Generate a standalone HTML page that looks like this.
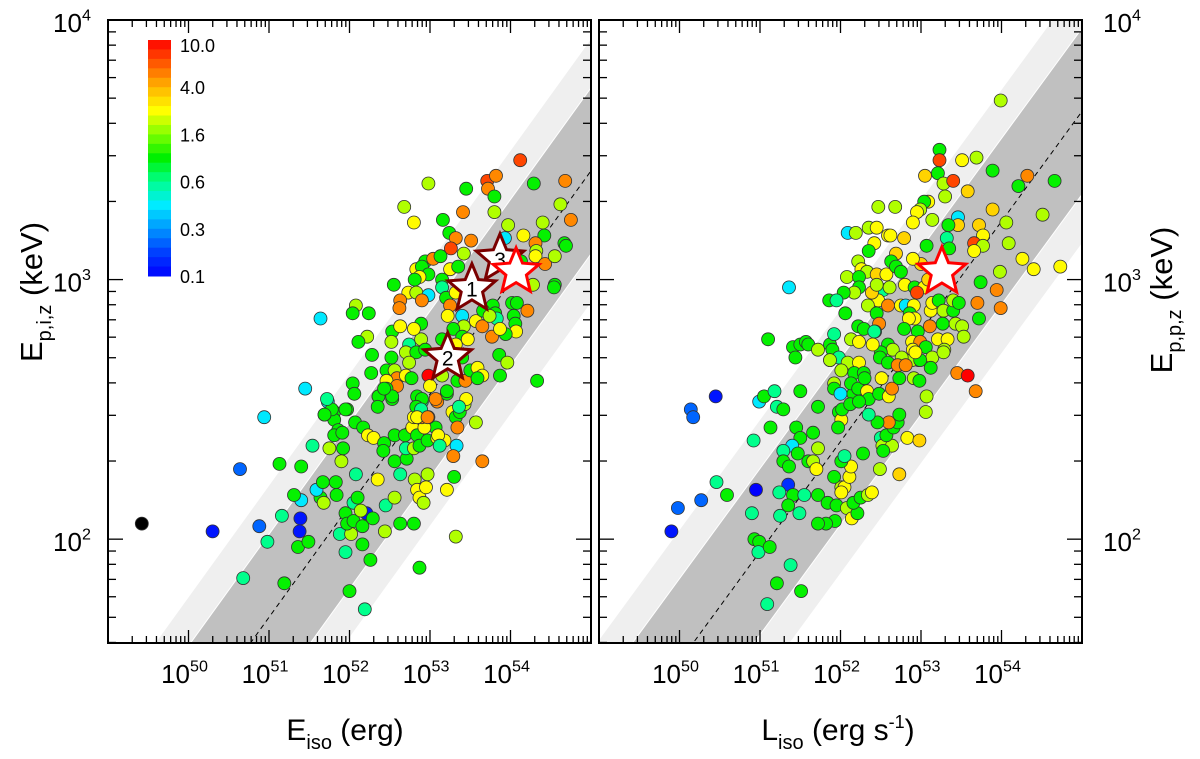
<!DOCTYPE html>
<html><head><meta charset="utf-8"><style>
html,body{margin:0;padding:0;background:#fff;overflow:hidden;width:1200px;height:759px;}
svg{display:block;font-family:"Liberation Sans",Arial,sans-serif;}
</style></head><body>
<svg id="chart" width="1200" height="759" viewBox="0 0 1200 759" xmlns="http://www.w3.org/2000/svg">
<defs>
<clipPath id="clipL"><rect x="108" y="20" width="483" height="623"/></clipPath>
<clipPath id="clipR"><rect x="599" y="20" width="483" height="623"/></clipPath>
</defs>
<g id="panelL"></g>
<g id="panelR"></g>
<g id="overlay"></g>
</svg>
<script>
// ---------- data (log10 values) ----------
const leftLogEiso = [
49.42,50.30,50.88,51.39,51.38,51.40,50.64,50.94,51.45,51.73,
51.54,51.13,51.40,51.16,50.98,51.36,51.49,50.68,51.19,52.00,
52.19,52.87,53.32,53.65,53.21,52.26,51.95,52.16,51.88,52.02,
51.95,51.97,52.05,52.16,52.21,52.29,52.44,52.63,52.80,52.05,
52.10,52.14,52.45,52.56,51.31,51.64,51.68,51.59,51.67,51.83,
51.84,52.08,52.35,52.63,52.81,52.84,52.87,52.92,52.95,52.97,
53.30,53.33,53.29,51.81,51.81,51.86,51.81,51.91,51.69,51.97,
51.75,51.92,51.90,52.07,52.17,52.23,52.30,52.43,52.56,52.42,
52.56,52.71,52.70,52.69,52.78,52.84,52.80,52.87,52.97,53.09,
53.07,52.98,52.93,52.80,52.90,52.84,52.90,52.88,53.09,53.21,
53.28,53.32,53.37,53.43,53.34,53.57,53.18,53.10,53.12,53.71,
53.82,53.72,53.80,52.98,53.45,54.29,54.68,52.68,52.80,53.16,
53.41,53.80,54.62,54.75,53.24,53.32,53.26,53.51,53.42,53.97,
54.16,54.40,54.42,54.31,54.32,54.31,54.67,53.93,54.43,54.55,
54.13,52.94,53.04,53.13,52.83,52.90,52.98,52.87,52.81,52.55,
52.73,52.83,52.98,52.63,52.90,52.62,52.08,52.04,52.24,51.64,
53.15,53.25,53.35,53.15,53.20,53.32,53.25,53.22,53.40,53.42,
53.29,53.40,53.57,53.65,53.78,53.81,53.83,54.02,54.08,54.04,
54.06,54.07,53.94,53.77,53.87,54.21,54.28,54.55,54.54,54.33,
52.53,52.52,52.74,52.89,52.89,52.80,52.63,52.22,52.11,52.28,
52.70,52.83,52.94,52.74,52.52,52.27,52.46,52.56,52.59,52.70,
52.77,52.46,52.59,52.46,52.36,52.53,52.04,52.06,51.95,51.78,
51.72,51.69,52.98,53.00,53.15,53.21,53.07,52.90,52.83,52.89,
52.84,52.97,53.34,53.44,53.50,53.59,53.65,53.59,53.86,53.96,
53.87,53.32,53.40,53.47,53.15,53.45,53.36,53.66,53.74,54.12,
54.69,52.36,52.35,52.53,52.43];
const leftLogEp = [
2.06,2.03,2.05,2.08,2.03,2.15,2.27,2.47,2.58,2.53,
2.36,2.29,2.28,2.09,1.99,1.97,1.99,1.85,1.83,1.80,
1.73,1.89,2.01,2.30,2.19,1.92,1.95,1.98,2.02,2.02,
2.10,2.06,2.07,2.05,2.10,2.08,2.03,2.06,2.06,2.14,
2.16,2.11,2.13,2.16,2.17,2.16,2.14,2.19,2.22,2.22,
2.17,2.25,2.23,2.25,2.23,2.19,2.16,2.14,2.20,2.25,
2.24,2.36,2.32,2.49,2.46,2.42,2.40,2.41,2.48,2.50,
2.35,2.35,2.30,2.45,2.43,2.40,2.39,2.37,2.40,2.34,
2.30,2.31,2.35,2.40,2.43,2.40,2.35,2.36,2.38,2.39,
2.43,2.47,2.43,2.47,2.47,2.55,2.53,2.50,2.53,2.56,
2.49,2.47,2.49,2.52,2.43,2.45,2.38,2.40,2.36,3.38,
3.40,3.35,3.32,3.37,3.35,3.37,3.38,3.28,3.22,3.23,
3.26,3.26,3.29,3.23,3.18,3.16,3.12,3.15,3.10,3.21,
3.17,3.22,3.17,3.14,3.11,3.09,3.14,3.16,3.06,3.09,
3.07,3.07,3.08,3.09,3.04,3.05,3.02,3.01,3.00,2.98,
2.95,2.95,2.94,2.92,2.92,2.89,2.90,2.87,2.87,2.85,
3.00,3.04,3.05,2.97,2.93,2.95,2.90,2.86,2.86,2.82,
2.81,2.78,2.84,2.82,2.90,2.87,2.85,2.91,2.91,2.86,
2.83,2.80,2.79,2.78,2.81,2.88,2.98,2.98,2.97,2.61,
2.80,2.76,2.75,2.77,2.83,2.81,2.82,2.78,2.76,2.71,
2.72,2.72,2.73,2.68,2.70,2.64,2.65,2.65,2.62,2.63,
2.62,2.61,2.59,2.58,2.55,2.54,2.60,2.56,2.50,2.50,
2.54,2.48,2.63,2.59,2.63,2.57,2.54,2.54,2.51,2.50,
2.47,2.47,2.61,2.61,2.65,2.66,2.63,2.62,2.71,2.68,
2.63,2.75,2.70,2.77,2.77,2.54,2.51,2.88,2.86,3.46,
3.13,2.55,2.51,2.55,2.58];
const leftZ = [
0,0.12,0.22,0.12,0.12,0.42,0.22,0.42,0.42,0.42,
0.6,1,1,0.6,0.6,1,1,0.6,1,1,
0.6,1,1.9,5,2.6,1,0.6,1,0.6,1.9,
1,1,1,1,0.12,1,1.9,1,1,0.6,
1,1.9,0.6,1.9,1,1,1.9,0.42,1,1,
1,0.6,2.6,0.6,1.9,2.6,2.6,1.9,2.6,1.9,
1,0.42,5,1,1,1,1,1,1,1,
1.9,1,1.9,1,1,2.6,2.6,1,1,1,
1,1,0.6,1,2.6,1,1.9,1,1,2.6,
1,5,2.6,2.6,5,1,0.6,1,5,1,
2.6,1,1,1.9,5,1.9,2.6,2.6,0.6,7,
5,5,1,1.9,1,1,5,1.9,2.6,1,
5,1.9,1.9,5,1,5,7,5,1.9,1.9,
2.6,1.9,1,5,1.9,2.6,1,0.42,5,1.9,
1,1,5,1,2.6,1,1,2.6,1,1,
2.6,1.9,0.42,5,5,5,1.9,1,1,0.42,
1,2.6,1,0.6,1,2.6,5,2.6,0.42,1.9,
1,1,2.6,5,1,1,0.6,1,1,1,
1,2.6,1,5,2.6,5,1.9,1,1,1,
1,1.9,0.6,1.9,1,2.6,2.6,1.9,1,1,
1.9,1,1,1.9,1,1,1,1.9,5,2.6,
1,2.6,5,1,1,1,1,1,1,1,
0.6,1,10,2.6,1.9,1,5,1,1,0.6,
2.6,5,1,5,1,2.6,2.6,1,1,1.9,
1,2.6,1,2.6,1,2.6,0.6,1,1.9,7,
1,1,1,1,1];

const rightLogLiso = [
53.23,53.23,53.51,53.69,53.05,53.21,53.28,53.40,53.30,53.58,
53.89,54.21,54.32,54.66,54.51,53.09,53.04,52.99,52.95,53.14,
52.90,52.47,52.68,52.35,52.45,52.09,52.19,52.59,52.62,52.79,
52.42,52.35,52.69,53.46,53.46,53.34,53.72,53.89,54.06,53.77,
53.66,53.77,53.66,54.09,54.26,54.40,53.98,53.74,53.94,53.70,
53.99,53.72,53.32,53.35,53.07,53.00,52.90,52.22,52.26,52.33,
52.45,52.57,52.63,52.69,52.75,52.08,52.23,52.23,52.17,52.04,
51.86,51.95,51.36,51.10,51.41,51.44,51.50,51.57,51.60,51.72,
52.06,51.87,51.90,51.92,51.87,51.98,52.42,52.53,52.61,52.47,
52.34,52.59,52.39,52.45,52.80,52.92,53.04,53.09,52.95,52.75,
52.81,52.91,52.86,52.92,52.85,52.45,52.48,52.22,52.29,52.43,
53.12,53.14,53.22,53.28,53.40,53.40,53.47,53.11,53.27,53.43,
53.51,53.53,53.21,53.33,53.29,52.79,52.96,52.89,52.99,52.90,
53.06,53.14,52.97,52.89,52.59,52.65,52.50,52.49,52.59,52.76,
52.71,52.81,52.13,52.23,52.40,52.42,51.87,52.09,52.23,52.01,
52.17,52.29,53.12,53.45,53.58,50.45,50.14,50.17,50.99,51.05,
51.18,51.50,51.21,51.29,51.13,50.92,51.72,51.45,51.50,51.40,
51.29,51.47,51.29,51.36,51.66,51.72,51.60,51.66,51.70,50.46,
50.59,49.98,50.27,49.90,50.95,51.35,51.24,51.41,51.35,51.55,
51.25,51.49,50.90,50.93,50.99,50.98,51.12,51.38,51.21,51.51,
51.09,51.72,51.84,51.95,51.93,51.82,51.72,52.08,52.14,52.21,
52.16,52.25,52.34,52.39,52.01,52.05,52.01,52.11,52.13,52.01,
52.05,51.92,52.28,52.49,52.73,52.83,52.98,52.50,52.52,52.64,
52.53,52.57,52.66,52.71,52.60,52.46,52.73,52.35,51.98,52.01,
51.97,53.07,53.06,53.68,51.92,51.92,52.00,52.16,52.13,52.22,
52.30,52.33,52.35,52.02,52.12,52.23,52.48,52.60,52.64,52.51,
52.73,52.91,52.98,53.28,52.99,52.93,53.99,54.73];
const rightLogEp = [
3.50,3.46,3.46,3.47,3.40,3.41,3.37,3.38,3.32,3.34,
3.42,3.36,3.40,3.38,3.25,3.30,3.30,3.27,3.26,3.23,
3.22,3.28,3.28,3.20,3.20,3.18,3.18,3.17,3.17,3.16,
3.14,3.11,3.10,3.24,3.21,3.21,3.21,3.27,3.22,3.17,
3.14,3.13,3.11,3.14,3.08,3.04,3.03,2.99,2.96,2.91,
2.89,2.85,3.16,3.12,3.13,3.06,3.08,3.07,3.04,3.03,
3.02,3.02,3.07,3.05,3.03,3.01,3.01,2.97,2.95,2.95,
2.92,2.92,2.97,2.77,2.74,2.70,2.75,2.76,2.75,2.73,
2.87,2.75,2.73,2.79,2.69,2.70,2.95,2.96,2.97,2.92,
2.90,2.90,2.95,2.98,2.98,2.97,2.97,3.00,2.95,2.90,
2.90,2.90,2.87,2.85,2.85,2.87,2.83,2.82,2.81,2.80,
2.88,2.91,2.92,2.88,2.88,2.92,2.91,2.82,2.83,2.83,
2.82,2.78,2.77,2.77,2.73,2.81,2.80,2.76,2.76,2.73,
2.74,2.70,2.69,2.69,2.75,2.73,2.72,2.70,2.68,2.70,
2.67,2.67,2.77,2.76,2.75,2.80,2.69,2.68,2.68,2.65,
2.64,2.64,2.66,2.64,2.63,2.55,2.50,2.47,2.53,2.55,
2.57,2.57,2.51,2.50,2.43,2.38,2.51,2.43,2.39,2.36,
2.34,2.33,2.30,2.28,2.41,2.35,2.30,2.30,2.27,2.22,
2.17,2.12,2.15,2.03,2.19,2.21,2.18,2.17,2.13,2.17,
2.09,2.10,2.10,2.00,1.99,1.95,1.97,1.90,1.83,1.80,
1.75,2.17,2.14,2.13,2.07,2.06,2.06,2.12,2.08,2.10,
2.14,2.16,2.17,2.18,2.20,2.20,2.18,2.24,2.28,2.30,
2.32,2.24,2.33,2.27,2.25,2.39,2.38,2.39,2.36,2.36,
2.34,2.40,2.43,2.45,2.45,2.45,2.48,2.48,2.49,2.46,
2.43,2.55,2.49,2.57,2.60,2.58,2.56,2.56,2.60,2.58,
2.62,2.57,2.54,2.50,2.52,2.53,2.56,2.55,2.58,2.62,
2.62,2.62,2.61,2.72,2.69,2.72,3.69,3.05];
const rightZ = [
1,7,2.6,1.9,3.3,1,1.9,7,1.9,3.3,
1,1,5,1,1.9,2.6,1,1.9,2.6,1.9,
2.6,1.9,1.9,1.9,2.6,0.42,1.9,2.6,2.6,3.3,
2.6,1,3.3,0.42,3.3,1,3.3,3.3,1.9,2.6,
7,1.9,2.6,1.9,2.6,2.6,1.9,1,5,5,
5,1,0.6,1,1,3.3,2.6,1.9,2.6,1.9,
3.3,2.6,1,1,1,1.9,1,1,1.9,1,
1,0.6,0.42,1,1,1,1,1,1,1.9,
1,1,1,0.6,1.9,0.6,1,0.6,1.9,2.6,
1.9,5,3.3,1.9,2.6,1,2.6,3.3,7,2.6,
0.42,2.6,1,2.6,2.6,1,5,1,1,0.6,
2.6,2.6,1,1.9,1,1.9,1,5,1,1.9,
1.9,1.9,2.6,2.6,1.9,1,1,2.6,5,2.6,
1,1.9,1,1.9,1,1.9,1,1,1,1.9,
5,5,1.9,2.6,2.6,0.6,1.9,1.9,2.6,1.9,
1,1,1,5,10,0.12,0.22,0.22,0.42,1,
0.6,1,0.6,1,1,0.6,1,1,1,0.42,
0.6,1,1,1,1,1.9,1,1.9,2.6,0.6,
1,0.22,0.22,0.12,0.1,0.15,0.6,1,1,0.6,
0.6,0.6,0.6,1,1,0.6,1,0.6,1,1,
0.6,1,1,1,1,1,1,1.9,2.6,1,
1,1,1.9,2.6,1.9,2.6,2.6,2.6,2.6,1,
0.6,1,1,1.9,3.3,2.6,3.3,0.6,1.9,1.9,
1,1,1,1,5,1,1,0.6,1,2.6,
1,1.9,1.9,5,1.9,1,0.42,1,1,1,
1,2.6,1,1,1,1,1,2.6,5,2.6,
1,1.9,1,1.9,1,2.6,1.9,2.6];

// correlation lines: [intercept at log=52, slope], band half-widths (dex)
const leftFit = [2.129, 0.430];
const rightFit = [2.376, 0.424];
const bandHalfWidths = [0.51, 0.32];
// colour bar labels
const colorbarLabels = ["10.0","4.0","1.6","0.6","0.3","0.1"];
const colorbarValues = [10, 4, 1.6, 0.6, 0.3, 0.1];
// highlighted GRBs (log values)
const starsLeftX = [53.87, 53.52, 53.22, 54.07];
const starsLeftY = [3.08, 2.965, 2.70, 3.03];
const starsLeftLabel = ["3","1","2",""];
const starsRightX = [53.26];
const starsRightY = [3.03];
const xTickDecades = [50,51,52,53,54];
const yTickDecades = [2,3,4];

// ---------- helpers ----------
const NS = "http://www.w3.org/2000/svg";
function mk(tag, attrs, parent){const e=document.createElementNS(NS,tag);for(const k in attrs)e.setAttribute(k,attrs[k]);if(parent)parent.appendChild(e);return e;}
const Y0=20, Y1=643, YMIN=1.6, YMAX=4.0;
function yS(v){return Y1-(v-YMIN)/(YMAX-YMIN)*(Y1-Y0);}
function makeX(x0,x1){return v=>x0+(v-49)/6*(x1-x0);}
const cStops=[[0,[0,0,255]],[0.1,[0,64,255]],[0.2,[0,150,255]],[0.3,[0,235,255]],[0.4,[0,255,140]],[0.5,[0,240,0]],[0.6,[128,255,0]],[0.7,[255,255,0]],[0.8,[255,180,0]],[0.9,[255,90,0]],[1,[255,0,0]]];
function zToT(z){
  const v=[0.1,0.3,0.6,1.6,4,10], t=[0,0.2,0.4,0.6,0.8,1];
  if(z<=0.1)return 0; if(z>=10)return 1;
  for(let i=0;i<5;i++){if(z<=v[i+1]){return t[i]+0.2*Math.log(z/v[i])/Math.log(v[i+1]/v[i]);}}
  return 1;
}
function tToColor(t){
  for(let i=0;i<cStops.length-1;i++){const a=cStops[i],b=cStops[i+1];if(t<=b[0]){const f=(t-a[0])/(b[0]-a[0]);const c=a[1].map((x,j)=>Math.round(x+(b[1][j]-x)*f));return `rgb(${c[0]},${c[1]},${c[2]})`;}}
  return "rgb(255,0,0)";
}
function zColor(z){return z<=0?"#000":tToColor(zToT(z));}
function starPts(cx,cy,R){const r=R*0.45;let p=[];for(let i=0;i<10;i++){const a=-Math.PI/2+i*Math.PI/5;const rr=i%2?r:R;p.push((cx+rr*Math.cos(a)).toFixed(1)+","+(cy+rr*Math.sin(a)).toFixed(1));}return p.join(" ");}

function supText(parent,x,y,base,sup,size,anchor,name){
  const t=mk("text",{x:x,y:y,"font-size":size,"text-anchor":anchor||"middle",fill:"#000"},parent);
  
  
  t.appendChild(document.createTextNode(base));
  const s=mk("tspan",{dy:-size*0.45,"font-size":size*0.62},t);s.textContent=sup;
  return t;
}

function drawPanel(g,x0,x1,clipId,fit,xs,ys,zs,side){
  const xS=makeX(x0,x1);
  const cg=mk("g",{"clip-path":`url(#${clipId})`},g);
  bandHalfWidths.forEach((hw,bi)=>{
    const pts=[[49,fit[0]+fit[1]*(49-52)+hw],[55,fit[0]+fit[1]*(55-52)+hw],[55,fit[0]+fit[1]*(55-52)-hw],[49,fit[0]+fit[1]*(49-52)-hw]];
    const p=mk("polygon",{points:pts.map(q=>xS(q[0]).toFixed(1)+","+yS(q[1]).toFixed(1)).join(" "),fill:bi===0?"#efefef":"#c0c0c0",stroke:"#fff","stroke-width":1},cg);
    
    
  });
  const ln=mk("line",{x1:xS(49),y1:yS(fit[0]+fit[1]*(49-52)),x2:xS(55),y2:yS(fit[0]+fit[1]*(55-52)),stroke:"#000","stroke-width":1,"stroke-dasharray":"5,4"},cg);
  
  
  const n=Math.min(xs.length,ys.length,zs.length);
  for(let i=0;i<n;i++){
    const c=mk("circle",{cx:xS(xs[i]).toFixed(1),cy:yS(ys[i]).toFixed(1),r:6.5,fill:zColor(zs[i]),stroke:"#333","stroke-width":0.8},cg);
    
    
  }
  const fr=mk("rect",{x:x0,y:Y0,width:x1-x0,height:Y1-Y0,fill:"none",stroke:"#000","stroke-width":2},g);
  
  
  const tg=mk("g",{stroke:"#000","stroke-width":1.3},g);
  for(let d=49;d<55;d++){for(let k=1;k<10;k++){const v=d+Math.log10(k);if(v<=49.001)continue;const X=xS(v);const L=k===1?13:7;
    mk("line",{x1:X,y1:Y1,x2:X,y2:Y1-L},tg);mk("line",{x1:X,y1:Y0,x2:X,y2:Y0+L},tg);}}
  for(let d=1;d<4;d++){for(let k=1;k<10;k++){const v=d+Math.log10(k);if(v<YMIN||v>=YMAX)continue;const Y=yS(v);const L=k===1?15:8;
    mk("line",{x1:x0,y1:Y,x2:x0+L,y2:Y},tg);mk("line",{x1:x1,y1:Y,x2:x1-L,y2:Y},tg);}}
  xTickDecades.forEach(d=>{supText(g,xS(d)-4,683,"10",String(d),26,"middle","x-tick-label");});
  yTickDecades.forEach(d=>{
    if(side==="left")supText(g,x0-36,yS(d)+12,"10",String(d),26,"middle","y-tick-label");
    else supText(g,x1+40,yS(d)+12,"10",String(d),26,"middle","y-tick-label");
  });
}

const gL=document.getElementById("panelL"), gR=document.getElementById("panelR");
drawPanel(gL,108,591,"clipL",leftFit,leftLogEiso,leftLogEp,leftZ,"left");
drawPanel(gR,599,1082,"clipR",rightFit,rightLogLiso,rightLogEp,rightZ,"right");

const xL=makeX(108,591), xR=makeX(599,1082);
starsLeftX.forEach((v,i)=>{
  const red=starsLeftLabel[i]==="";
  const s=mk("polygon",{points:starPts(xL(v),yS(starsLeftY[i]),red?24:25),fill:"#fff",stroke:red?"#ff0000":"#7a0000","stroke-width":3,"stroke-linejoin":"miter"},gL);
  
  
  if(!red){const t=mk("text",{x:xL(v),y:yS(starsLeftY[i])+8,"font-size":21,"text-anchor":"middle",fill:"#000"},gL);t.textContent=starsLeftLabel[i];
    
    }
});
starsRightX.forEach((v,i)=>{
  const s=mk("polygon",{points:starPts(xR(v),yS(starsRightY[i]),25),fill:"#fff",stroke:"#ff0000","stroke-width":3},gR);
  
  
});

const cb=mk("g",{},gL);


const CB0=40, CB1=276, NSEG=25;
for(let i=0;i<NSEG;i++){
  const t=1-(i+0.5)/NSEG;
  mk("rect",{x:148,y:(CB0+i*(CB1-CB0)/NSEG).toFixed(2),width:23,height:((CB1-CB0)/NSEG+0.5).toFixed(2),fill:tToColor(t),stroke:"none"},cb);
}
colorbarLabels.forEach((lab,i)=>{
  const t=zToT(colorbarValues[i]);
  const yy=CB0+(1-t)*(CB1-CB0)+ (i===0?12:(i===5?7:7));
  const tx=mk("text",{x:180,y:yy,"font-size":18,fill:"#000"},cb);
  tx.textContent=lab;
  
  
});

const ov=document.getElementById("overlay");
function titleY(x,y,sub,name){
  const t=mk("text",{x:0,y:0,"font-size":31,"text-anchor":"middle",fill:"#000",transform:`translate(${x},${y}) rotate(-90)`},ov);
  
  
  t.appendChild(document.createTextNode("E"));
  const s=mk("tspan",{dy:9,"font-size":20},t);s.textContent=sub;
  const r=mk("tspan",{dy:-9,"font-size":31},t);r.textContent=" (keV)";
}
titleY(42,292,"p,i,z","y-axis-title-left");
titleY(1172,300,"p,p,z","y-axis-title-right");
(function(){
  const t=mk("text",{x:345,y:740,"font-size":30,"text-anchor":"middle",fill:"#000"},ov);
  
  
  t.appendChild(document.createTextNode("E"));
  const s=mk("tspan",{dy:9,"font-size":20},t);s.textContent="iso";
  const r=mk("tspan",{dy:-9,"font-size":30},t);r.textContent=" (erg)";
  const t2=mk("text",{x:838,y:740,"font-size":30,"text-anchor":"middle",fill:"#000"},ov);
  
  
  t2.appendChild(document.createTextNode("L"));
  const s2=mk("tspan",{dy:9,"font-size":20},t2);s2.textContent="iso";
  const r2=mk("tspan",{dy:-9,"font-size":30},t2);r2.textContent=" (erg s";
  const r3=mk("tspan",{dy:-12,"font-size":18},t2);r3.textContent="-1";
  const r4=mk("tspan",{dy:12,"font-size":30},t2);r4.textContent=")";
})();
</script>
</body></html>
